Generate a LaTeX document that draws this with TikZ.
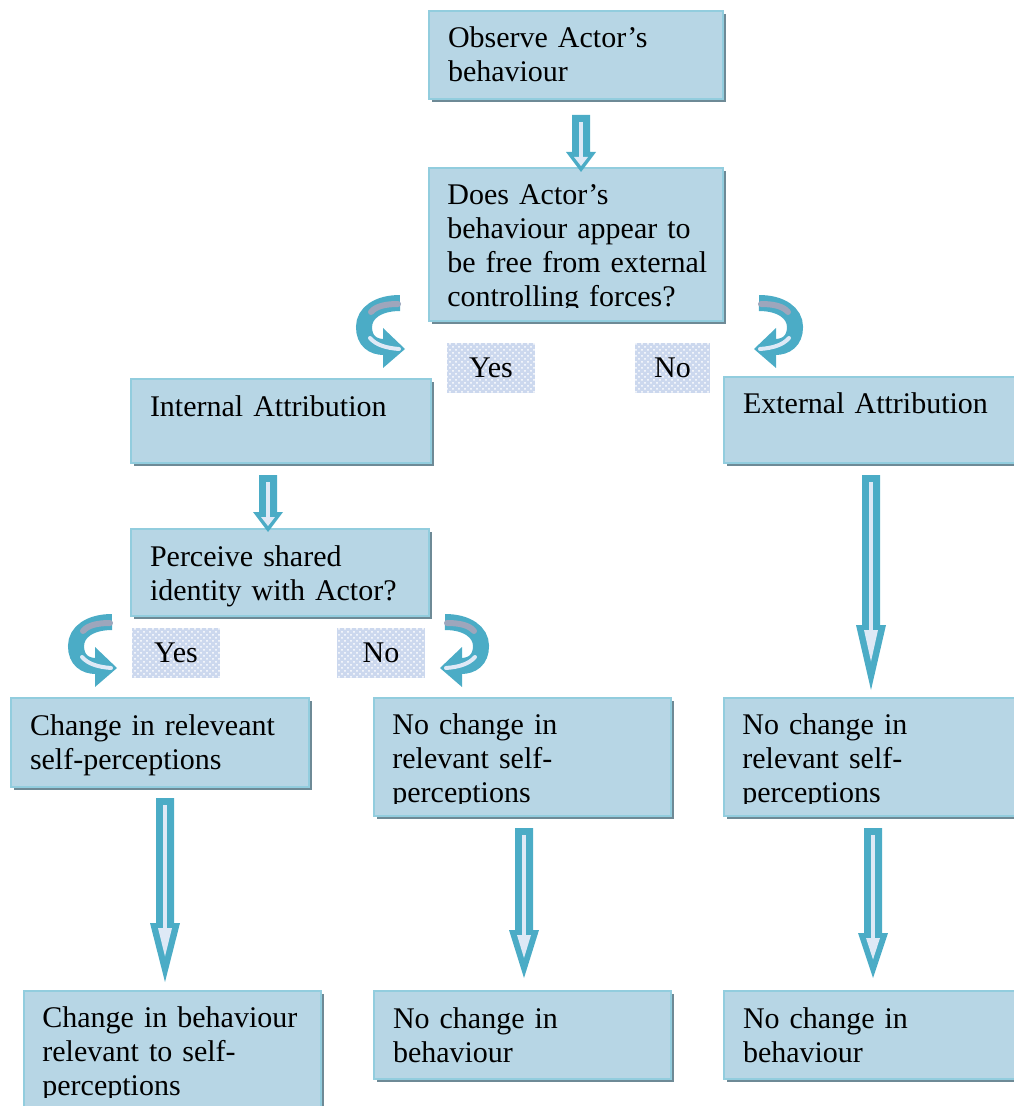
\documentclass[tikz,border=0pt]{standalone}
\usepackage{fontspec}
\setmainfont{Liberation Serif}
\usetikzlibrary{calc, shadows, patterns}

\definecolor{boxfill}{RGB}{183,214,229}
\definecolor{boxedge}{RGB}{146,205,222}
\definecolor{shadowgray}{RGB}{110,138,150}
\definecolor{arrowcyan}{RGB}{75,172,198}
\definecolor{arrowpale}{RGB}{222,233,246}
\definecolor{turngray}{RGB}{158,166,188}
\definecolor{tagfill}{RGB}{204,216,238}

\newcommand{\boxfont}{\fontsize{15}{17}\selectfont}

% hollow block arrow: top, tip, head length
\newcommand{\blockarrow}[3]{%
  \fill[arrowcyan] ($(#1)+(-9,0)$) -- ($(#2)+(-9,-#3)$) -- ($(#2)+(-15,-#3)$) -- (#2)
    -- ($(#2)+(15,-#3)$) -- ($(#2)+(9,-#3)$) -- ($(#1)+(9,0)$) -- cycle;
  \fill[arrowpale] ($(#1)+(-2,7)$) rectangle ($(#2)+(2,-#3+6)$);
  \fill[arrowpale] ($(#2)+(-7,-#3+5)$) -- ($(#2)+(7,-#3+5)$) -- ($(#2)+(0,-#3/2+4)$) -- cycle;
}

\tikzset{
  flowbox/.style={draw=boxedge, fill=boxfill, line width=1pt, anchor=north west,
    inner xsep=9.5pt, inner ysep=7.5pt, text height=11pt, align=left, font=\boxfont,
    drop shadow={shadow xshift=1.5pt, shadow yshift=-1.5pt, fill=shadowgray, opacity=1}},
  boxtext/.style={anchor=north west, inner xsep=9.5pt, inner ysep=7.5pt,
    text height=11pt, align=left, font=\boxfont},
  answer/.style={fill=tagfill, minimum height=25pt, inner sep=0pt, font=\boxfont,
    postaction={pattern=crosshatch dots, pattern color=white}},
  uturn/.pic={
    \draw[arrowcyan, line width=8pt] (0,8) .. controls (-22,8) and (-36,18) .. (-36,32)
      .. controls (-36,46) and (-27,52) .. (-16,52);
    \fill[arrowcyan] (-17,33) -- (5,54) -- (-17,73) -- cycle;
    \draw[turngray, line width=3pt, line cap=round] (-2,9) .. controls (-14,9) and (-24,11) .. (-29,17);
    \draw[arrowpale, line width=2pt, line cap=round] (-30,43) .. controls (-24,50) and (-14,53) .. (-1,54);
  }
}

\begin{document}
\begin{tikzpicture}[x=0.5pt, y=-0.5pt]
  \useasboundingbox (0,0) rectangle (1013,1106);

  % question boxes
  \node[flowbox, minimum width=147pt, text width=128pt, text depth=18pt] (obs) at (428,10) {Observe Actor’s\\behaviour};
  \node[flowbox, minimum width=147pt, text width=128pt, text depth=50.5pt] (q) at (428,167) {};
  \begin{scope}
    \clip (q.north west) rectangle ($(q.south east)+(0,-14)$);
    \node[boxtext, text width=150pt] (qtext) at (q.north west) {Does Actor’s\\behaviour appear to\\be free from external\\controlling forces?};
  \end{scope}

  \node[flowbox, minimum width=150pt, text width=131pt, text depth=16pt] (int) at (130,378) {Internal Attribution};
  \node[flowbox, minimum width=146pt, text width=127pt, text depth=17pt] (ext) at (723,376) {External Attribution};
  \node[flowbox, minimum width=149pt, text width=130pt, text depth=17.5pt] (per) at (130,528) {Perceive shared\\identity with Actor?};

  % outcome boxes
  \node[flowbox, minimum width=149pt, text width=130pt, text depth=18.5pt] (chg) at (10,697) {Change in releveant\\self-perceptions};
  \node[flowbox, minimum width=148.5pt, text width=129.5pt, text depth=33pt] (ncsa) at (373,697) {};
  \node[flowbox, minimum width=146pt, text width=127pt, text depth=33pt] (ncsb) at (723,697) {};
  \begin{scope}
    \clip (ncsa.north west) rectangle ($(ncsa.south east)+(0,-14)$);
    \node[boxtext, text width=150pt] (ncsatext) at (ncsa.north west) {No change in\\relevant self-\\perceptions};
  \end{scope}
  \begin{scope}
    \clip (ncsb.north west) rectangle ($(ncsb.south east)+(0,-14)$);
    \node[boxtext, text width=150pt] (ncsbtext) at (ncsb.north west) {No change in\\relevant self-\\perceptions};
  \end{scope}

  \node[flowbox, minimum width=148.5pt, text width=129.5pt, text depth=36pt] (cbeh) at (23,990) {};
  \begin{scope}
    \clip (cbeh.north west) rectangle ($(cbeh.south east)+(0,-19)$);
    \node[boxtext, text width=150pt] (cbehtext) at (cbeh.north west) {Change in behaviour\\relevant to self-\\perceptions};
  \end{scope}
  \node[flowbox, minimum width=148.5pt, text width=129.5pt, text depth=18pt] (ncba) at (373,990) {No change in\\behaviour};
  \node[flowbox, minimum width=146pt, text width=127pt, text depth=18pt] (ncbb) at (723,990) {No change in\\behaviour};

  % yes / no tags
  \node[answer, minimum width=44pt] (yesa) at (491,368) {Yes};
  \node[answer, minimum width=37.5pt] (noa) at (672.5,368) {No};
  \node[answer, minimum width=44pt] (yesb) at (176,652.5) {Yes};
  \node[answer, minimum width=44pt] (nob) at (381,652.5) {No};

  % turning arrows
  \pic at ($(q.south west)+(-28,-27)$) {uturn};
  \pic[xscale=-1] at ($(q.south east)+(35,-27)$) {uturn};
  \pic at ($(per.south west)+(-18,-3)$) {uturn};
  \pic[xscale=-1] at ($(per.south east)+(15,-3)$) {uturn};

  % block arrows
  \coordinate (a1s) at ($(obs.south)+(5,15)$);
  \coordinate (a1e) at ($(q.north)+(5,5)$);
  \coordinate (a2s) at ($(int.south)+(-13,11)$);
  \coordinate (a2e) at ($(per.north)+(-12,4)$);
  \coordinate (a3s) at ($(ext.south)+(1,11)$);
  \coordinate (a3e) at ($(ncsb.north)+(1,-7)$);
  \coordinate (a4s) at ($(chg.south)+(5,10)$);
  \coordinate (a4e) at ($(cbeh.north)+(-7.5,-8)$);
  \coordinate (a5s) at ($(ncsa.south)+(1.5,11)$);
  \coordinate (a5e) at ($(ncba.north)+(1.5,-12)$);
  \coordinate (a6s) at ($(ncsb.south)+(3,11)$);
  \coordinate (a6e) at ($(ncbb.north)+(3,-12)$);
  \blockarrow{a1s}{a1e}{20}
  \blockarrow{a2s}{a2e}{20}
  \blockarrow{a3s}{a3e}{65}
  \blockarrow{a4s}{a4e}{59}
  \blockarrow{a5s}{a5e}{48}
  \blockarrow{a6s}{a6e}{45}
\end{tikzpicture}
\end{document}
